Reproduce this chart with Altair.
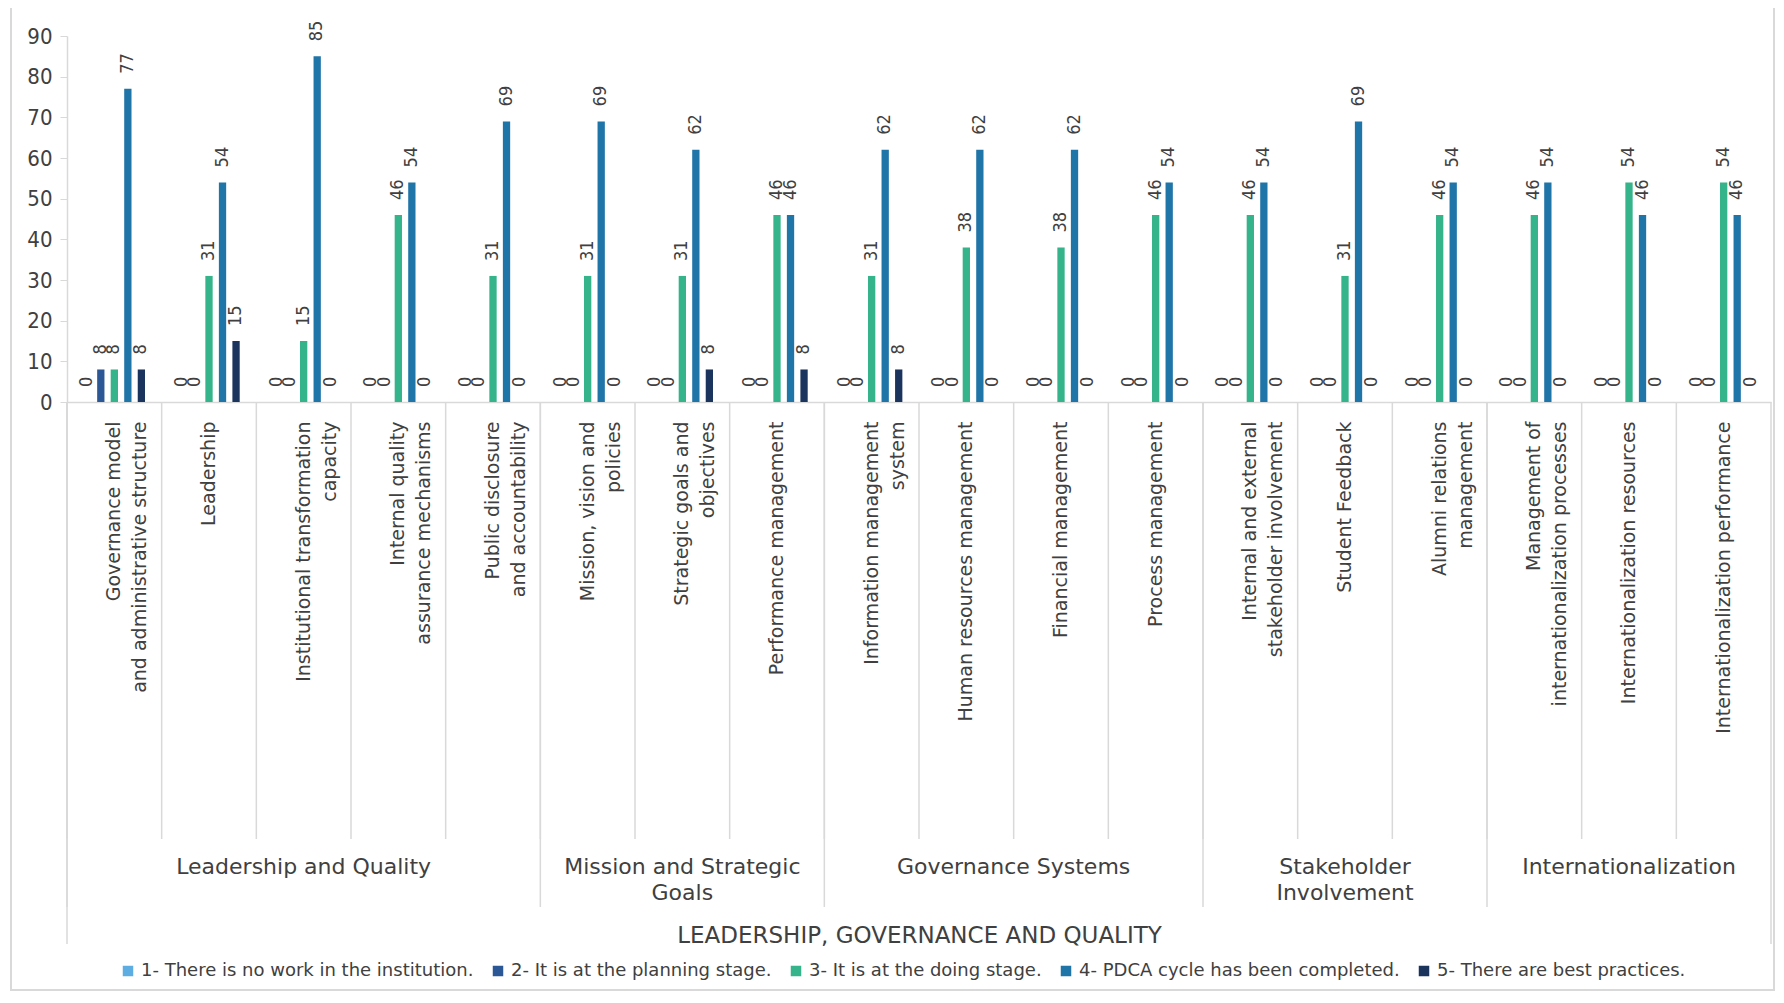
import altair as alt
import pandas as pd

categories = [
    "Governance model\nand administrative structure",
    "Leadership",
    "Institutional transformation\ncapacity",
    "Internal quality\nassurance mechanisms",
    "Public disclosure\nand accountability",
    "Mission, vision and\npolicies",
    "Strategic goals and\nobjectives",
    "Performance management",
    "Information management\nsystem",
    "Human resources management",
    "Financial management",
    "Process management",
    "Internal and external\nstakeholder involvement",
    "Student Feedback",
    "Alumni relations\nmanagement",
    "Management of\ninternationalization processes",
    "Internationalization resources",
    "Internationalization performance",
]

series = [
    "1- There is no work in the institution.",
    "2- It is at the planning stage.",
    "3- It is at the doing stage.",
    "4- PDCA cycle has been completed.",
    "5- There are best practices.",
]

s1 = [0, 0, 0, 0, 0, 0, 0, 0, 0, 0, 0, 0, 0, 0, 0, 0, 0, 0]
s2 = [8, 0, 0, 0, 0, 0, 0, 0, 0, 0, 0, 0, 0, 0, 0, 0, 0, 0]
s3 = [8, 31, 15, 46, 31, 31, 31, 46, 31, 38, 38, 46, 46, 31, 46, 46, 54, 54]
s4 = [77, 54, 85, 54, 69, 69, 62, 46, 62, 62, 62, 54, 54, 69, 54, 54, 46, 46]
s5 = [8, 15, 0, 0, 0, 0, 8, 8, 8, 0, 0, 0, 0, 0, 0, 0, 0, 0]

groups = [
    "Leadership and Quality",
    "Mission and Strategic\nGoals",
    "Governance Systems",
    "Stakeholder\nInvolvement",
    "Internationalization",
]
group_sizes = [5, 3, 4, 3, 3]

axis_title = "LEADERSHIP, GOVERNANCE AND QUALITY"
colors = ["#5DADE2", "#2B5797", "#35B38A", "#1F75A8", "#1B345E"]

# ---- tables ----
rows = []
for name, vals in zip(series, [s1, s2, s3, s4, s5]):
    for c, v in zip(categories, vals):
        rows.append({"category": c, "series": name, "value": v})
df = pd.DataFrame(rows)
cat_df = pd.DataFrame({"category": categories})

starts, s = [], 0
for n in group_sizes:
    starts.append(s)
    s += n
gdf = pd.DataFrame({"group": groups, "start": starts,
                    "end": [a + b for a, b in zip(starts, group_sizes)]})

COND = "Liberation Sans Narrow, DejaVu Sans Condensed, Roboto Condensed, Roboto, sans-serif"
WIDE = "DejaVu Sans, Verdana, sans-serif"
GRAY = "#404040"
LINE = "#d9d9d9"
W, H = 1704, 366
NCAT = len(categories)

band = alt.Scale(paddingInner=0, paddingOuter=0)
qscale = alt.Scale(domain=[0, NCAT], nice=False, zero=False)
yscale = alt.Scale(domain=[0, 90], nice=False)
offset = alt.XOffset("series:N", sort=series,
                     scale=alt.Scale(paddingInner=0, paddingOuter=1))

x_axis = alt.Axis(
    title=axis_title, labelAngle=-90, labelExpr="split(datum.label, '\\n')",
    labelFont=WIDE, labelFontSize=19, labelColor=GRAY, labelLineHeight=26,
    labelPadding=19, labelLimit=2000, labelOverlap=False, labelBound=False,
    ticks=False, domainColor=LINE, domainWidth=1.5,
    titleFont=WIDE, titleFontSize=23, titleFontWeight="normal", titleColor=GRAY,
    titleX=W / 2, titleY=540, titleBaseline="alphabetic", titleAnchor="middle",
)

bars = alt.Chart(df).mark_bar(width=7.3).encode(
    x=alt.X("category:N", sort=categories, scale=band, axis=x_axis),
    xOffset=offset,
    y=alt.Y("value:Q", scale=yscale,
            axis=alt.Axis(values=list(range(0, 91, 10)), title=None, grid=False,
                          tickSize=7, tickColor=LINE, domainColor=LINE, domainWidth=1.5,
                          labelFont=COND, labelFontSize=22, labelColor=GRAY, labelPadding=8)),
    color=alt.Color("series:N", sort=series,
                    scale=alt.Scale(domain=series, range=colors),
                    legend=alt.Legend(orient="none", legendX=52, legendY=926,
                                      direction="horizontal", title=None,
                                      symbolType="square", symbolSize=110, symbolStrokeWidth=0,
                                      labelFont=WIDE, labelFontSize=18,
                                      labelColor=GRAY, labelOffset=4,
                                      columnPadding=15, labelLimit=800)),
)

labels = alt.Chart(df).mark_text(
    angle=270, align="left", baseline="middle", dx=15,
    font=COND, fontSize=18, color=GRAY,
).encode(
    x=alt.X("category:N", sort=categories, scale=band, axis=x_axis),
    xOffset=offset,
    y=alt.Y("value:Q", scale=yscale),
    text=alt.Text("value:Q"),
)

cat_rules = alt.Chart(cat_df).mark_rule(color=LINE, strokeWidth=1.5).encode(
    x=alt.X("category:N", sort=categories, scale=band, axis=x_axis, bandPosition=0),
    y=alt.value(H), y2=alt.value(803),
)

inner = alt.layer(bars, labels, cat_rules)

group_rules = alt.Chart(gdf).mark_rule(color=LINE, strokeWidth=1.5).encode(
    x=alt.X("start:Q", scale=qscale, axis=None),
    y=alt.value(H), y2=alt.value(871),
)
outer_left = alt.Chart(gdf).mark_rule(color=LINE, strokeWidth=1.5).encode(
    x=alt.X("min(start):Q", scale=qscale, axis=None),
    y=alt.value(H), y2=alt.value(908),
)
outer_right = alt.Chart(gdf).mark_rule(color=LINE, strokeWidth=1.5).encode(
    x=alt.X("max(end):Q", scale=qscale, axis=None),
    y=alt.value(H), y2=alt.value(908),
)
group_text = alt.Chart(gdf).transform_calculate(
    mid="(datum.start + datum.end) / 2"
).mark_text(
    align="center", baseline="alphabetic", lineBreak="\n", lineHeight=26,
    font=WIDE, fontSize=22, color=GRAY,
).encode(
    x=alt.X("mid:Q", scale=qscale, axis=None),
    y=alt.value(838),
    text="group:N",
)

frame = alt.Chart(gdf).mark_rect(fill=None, stroke=LINE, strokeWidth=1.5).encode(
    x=alt.value(-56), x2=alt.value(W + 3), y=alt.value(-30), y2=alt.value(954),
)

chart = alt.layer(
    frame, inner, group_rules, outer_left, outer_right, group_text
).resolve_scale(x="independent").properties(
    width=W, height=H,
    autosize=alt.AutoSizeParams(type="none"),
    padding={"left": 59, "top": 28, "right": 5, "bottom": 590},
).configure_view(stroke=None)

chart.save("out.html", embed_options={"renderer": "svg", "actions": False})
